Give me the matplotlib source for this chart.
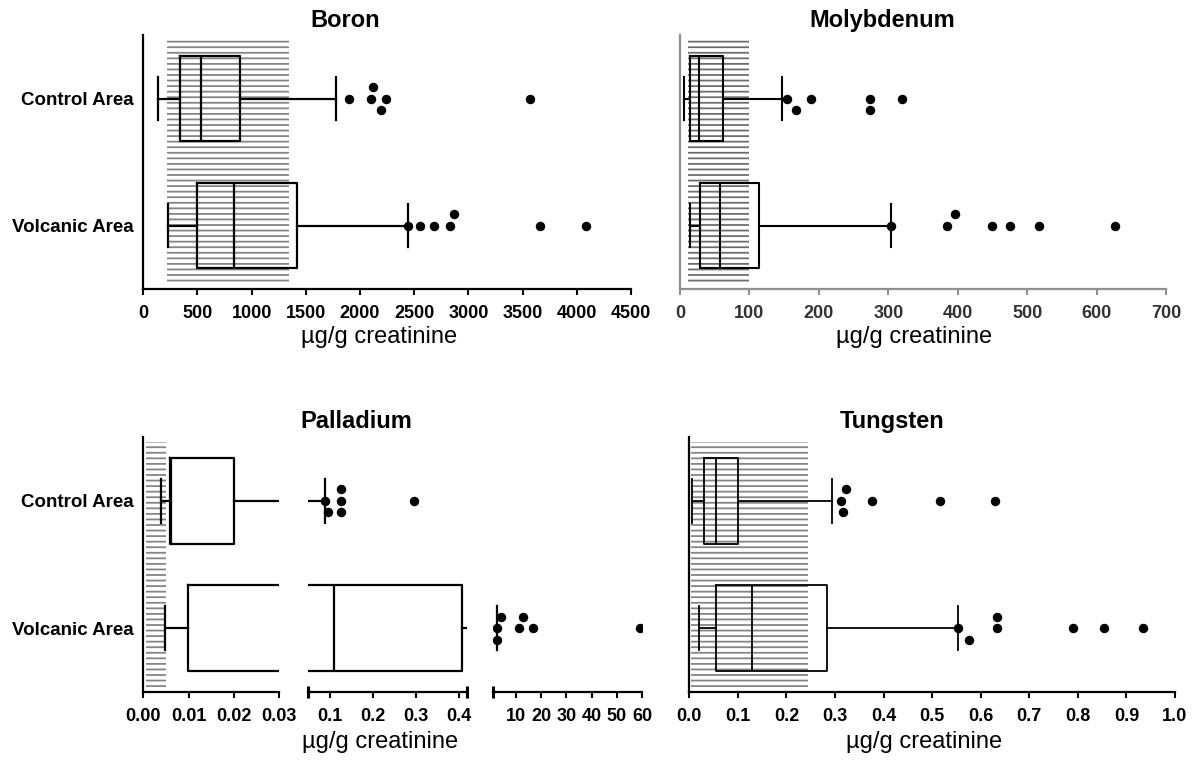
import matplotlib
matplotlib.use("Agg")
import matplotlib.pyplot as plt
from matplotlib.patches import Rectangle

plt.rcParams['font.family'] = ['Liberation Sans', 'DejaVu Sans']
plt.rcParams['hatch.linewidth'] = 1.3

W, H = 1197, 760

categories = ["Control Area", "Volcanic Area"]

# box stats: [whisker low, Q1, median, Q3, whisker high]
boron_ctrl = [135, 337, 528, 890, 1780]
boron_volc = [230, 496, 840, 1422, 2440]
boron_ctrl_out = [1897, 2121, 2103, 2238, 2191, 3567]
boron_ctrl_lane = [0, 1, 0, 0, -1, 0]
boron_volc_out = [2440, 2557, 2681, 2833, 2869, 3663, 4089]
boron_volc_lane = [0, 0, 0, 0, 1, 0, 0]
boron_ref = [223, 1348]

mo_ctrl = [6, 14.8, 28, 62, 147.6]
mo_volc = [14.3, 28.5, 57, 113.5, 304.4]
mo_ctrl_out = [154, 167, 189, 273, 273, 320]
mo_ctrl_lane = [0, -1, 0, 0, -1, 0]
mo_volc_out = [304.4, 384, 396, 450, 476, 517, 627]
mo_volc_lane = [0, 0, 1, 0, 0, 0, 0]
mo_ref = [11.5, 100]

pd_ctrl = [0.0038, 0.0058, 0.0062, 0.0199, 0.088]
pd_volc = [0.0048, 0.0099, 0.109, 0.408, 2.5]
pd_ctrl_out = [0.088, 0.094, 0.125, 0.125, 0.125, 0.296]
pd_ctrl_lane = [0, -1, 0, 1, -1, 0]
pd_volc_out = [2.5, 4.0, 2.6, 11.3, 12.8, 16.9, 59.1]
pd_volc_lane = [0, 1, -1, 0, 1, 0, 0]
pd_ref = [0.0006, 0.0051]

w_ctrl = [0.006, 0.030, 0.054, 0.101, 0.293]
w_volc = [0.019, 0.055, 0.129, 0.284, 0.553]
w_ctrl_out = [0.312, 0.323, 0.317, 0.377, 0.516, 0.630]
w_ctrl_lane = [0, 1, -1, 0, 0, 0]
w_volc_out = [0.554, 0.576, 0.634, 0.634, 0.789, 0.853, 0.934]
w_volc_lane = [0, -1, 0, 1, 0, 0, 0]
w_ref = [0.003, 0.245]

fig = plt.figure(figsize=(W / 100, H / 100), dpi=100)


def add_axes(l, t, r, b):
    return fig.add_axes([l / W, 1 - b / H, (r - l) / W, (b - t) / H])


def draw_boxes(ax, xlim, ctrl, volc, outs, lanes, ref=None, lw=1.6, ref_color='#858585'):
    ax.set_xlim(*xlim)
    stats = [dict(whislo=s[0], q1=s[1], med=s[2], q3=s[3], whishi=s[4], fliers=[])
             for s in (ctrl, volc)]
    props = dict(color='black', linewidth=lw)
    ax.bxp(stats, positions=[0, 1], widths=0.67, capwidths=0.34,
           orientation='horizontal', showfliers=False, manage_ticks=False,
           boxprops=props, whiskerprops=props, capprops=props, medianprops=props)
    for pos, xs, ls in zip([0, 1], outs, lanes):
        keep = [(x, pos - 0.09 * l) for x, l in zip(xs, ls) if xlim[0] <= x <= xlim[1]]
        if keep:
            ax.plot([k[0] for k in keep], [k[1] for k in keep], 'o', color='black',
                    ms=5.8, mec='black', zorder=5)
    if ref is not None:
        ax.add_patch(Rectangle((ref[0], -0.465), ref[1] - ref[0], 1.93,
                               facecolor='none', edgecolor=ref_color, lw=0,
                               hatch='---', zorder=0))
    ax.set_xlim(*xlim)
    ax.set_ylim(1.5, -0.5)


def style_axes(ax, color='black', labels=False):
    for s in ['top', 'right']:
        ax.spines[s].set_visible(False)
    for s in ['left', 'bottom']:
        ax.spines[s].set_linewidth(1.6)
        ax.spines[s].set_color(color)
    ax.tick_params(axis='x', direction='out', length=4, width=1.5, color=color,
                   labelsize=13, pad=7.5)
    for t in ax.get_xticklabels():
        t.set_fontweight('bold')
    ax.set_yticks([0, 1])
    if labels:
        ax.set_yticklabels(categories, fontsize=13.5, fontweight='bold')
        ax.tick_params(axis='y', length=0, pad=7)
    else:
        ax.set_yticklabels([])
        ax.tick_params(axis='y', length=0)


# Boron
ax = add_axes(143.3, 35, 631, 289.3)
draw_boxes(ax, (0, 4500), boron_ctrl, boron_volc, [boron_ctrl_out, boron_volc_out],
           [boron_ctrl_lane, boron_volc_lane], boron_ref)
ax.set_xticks(range(0, 4501, 500))
style_axes(ax, labels=True)

# Molybdenum
ax = add_axes(680, 35, 1166, 289.3)
draw_boxes(ax, (0, 700), mo_ctrl, mo_volc, [mo_ctrl_out, mo_volc_out],
           [mo_ctrl_lane, mo_volc_lane], mo_ref, lw=1.5, ref_color='#6e6e6e')
ax.set_xticks(range(0, 701, 100))
style_axes(ax, color='#8f8f8f')
ax.tick_params(axis='x', labelcolor='#333333')

# Palladium, broken x axis in three pieces
pd_limits = [(0, 0.03), (0.049, 0.419), (0.9, 60)]
pd_rects = [(143.3, 279.3), (308.3, 466.7), (492.7, 642.3)]
pd_ticks = [[0, 0.01, 0.02, 0.03], [0.1, 0.2, 0.3, 0.4], [10, 20, 30, 40, 50, 60]]
pd_ticklabels = [["0.00", "0.01", "0.02", "0.03"], ["0.1", "0.2", "0.3", "0.4"],
                 ["10", "20", "30", "40", "50", "60"]]
pd_caps = [[0.03], [0.049, 0.419], [0.9]]
for i in range(3):
    ax = add_axes(pd_rects[i][0], 437.3, pd_rects[i][1], 691.7)
    draw_boxes(ax, pd_limits[i], pd_ctrl, pd_volc, [pd_ctrl_out, pd_volc_out],
               [pd_ctrl_lane, pd_volc_lane], pd_ref if i == 0 else None)
    ax.set_xticks(pd_ticks[i])
    ax.set_xticklabels(pd_ticklabels[i])
    ax.set_xticks(pd_caps[i], minor=True)
    style_axes(ax, labels=(i == 0))
    ax.tick_params(axis='x', which='minor', direction='inout', length=8, width=2.2)
    if i > 0:
        ax.spines['left'].set_visible(False)

# Tungsten
ax = add_axes(689.3, 437.3, 1175, 691.7)
draw_boxes(ax, (0, 1.0), w_ctrl, w_volc, [w_ctrl_out, w_volc_out],
           [w_ctrl_lane, w_volc_lane], w_ref, lw=1.3)
ax.set_xticks([i / 10 for i in range(11)])
ax.set_xticklabels([f"{i / 10:.1f}" for i in range(11)])
style_axes(ax)

titles = [("Boron", 345.6, 20.7), ("Molybdenum", 882.5, 20.7),
          ("Palladium", 356.8, 422), ("Tungsten", 892, 422)]
for txt, x, y in titles:
    fig.text(x / W, 1 - y / H, txt, ha='center', va='center', fontsize=17, fontweight='bold')

xlabels = [(379, 336.7), (913.7, 336.7), (380, 741.7), (924, 741.7)]
for x, y in xlabels:
    fig.text(x / W, 1 - y / H, "\u00b5g/g creatinine", ha='center', va='center', fontsize=17)

fig.savefig("out.png", dpi=100)
